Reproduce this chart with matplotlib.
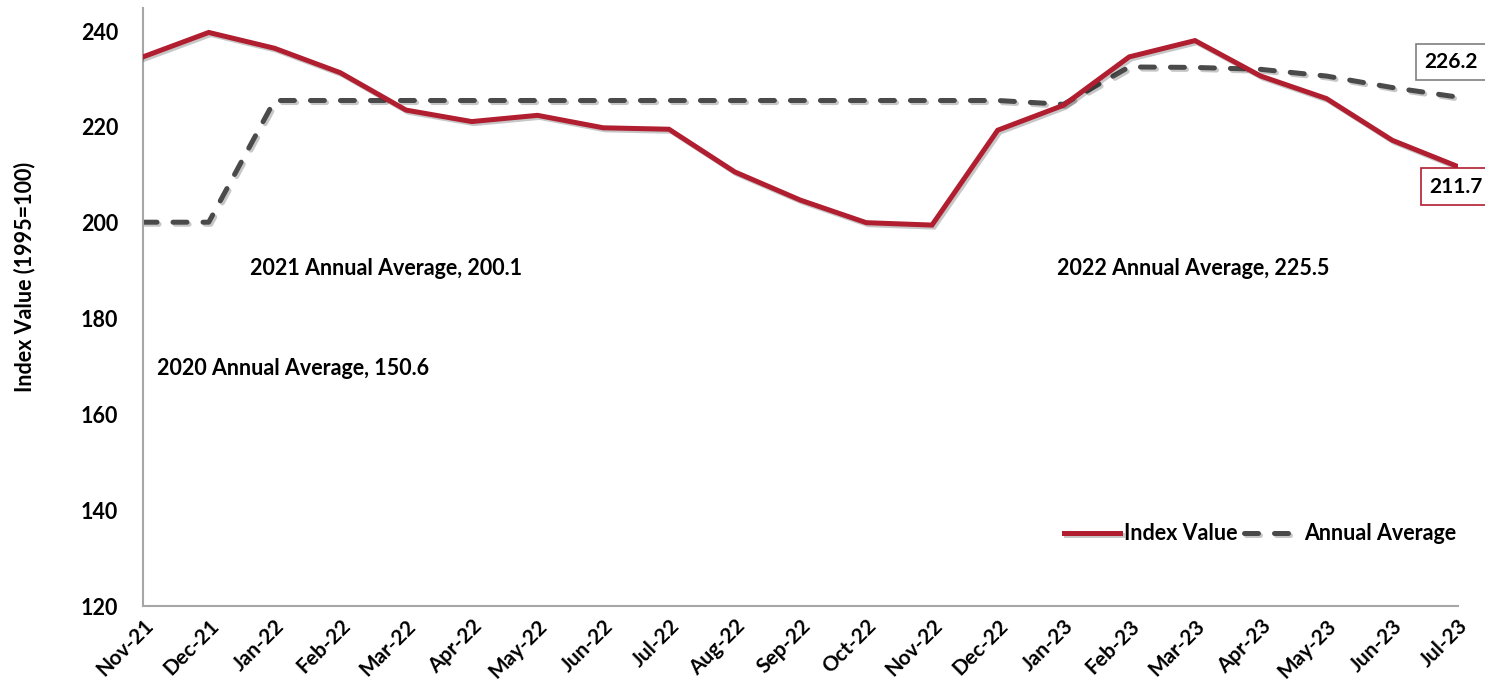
import matplotlib as mplt
import matplotlib.pyplot as plt
import matplotlib.patheffects as pe

mplt.rcParams['font.family'] = ['Lato', 'DejaVu Sans']
mplt.rcParams['font.weight'] = 'bold'

months = ['Nov-21', 'Dec-21', 'Jan-22', 'Feb-22', 'Mar-22', 'Apr-22', 'May-22',
          'Jun-22', 'Jul-22', 'Aug-22', 'Sep-22', 'Oct-22', 'Nov-22', 'Dec-22',
          'Jan-23', 'Feb-23', 'Mar-23', 'Apr-23', 'May-23', 'Jun-23', 'Jul-23']
index_value = [234.6, 239.7, 236.4, 231.3, 223.5, 221.1, 222.4, 219.8, 219.5,
               210.6, 204.7, 200.0, 199.5, 219.3, 224.5, 234.6, 238.0, 230.6,
               225.9, 217.2, 211.7]
annual_avg = [200.1, 200.1,
              225.5, 225.5, 225.5, 225.5, 225.5, 225.5, 225.5, 225.5, 225.5,
              225.5, 225.5, 225.5,
              224.7, 232.5, 232.4, 232.0, 230.6, 228.2, 226.2]
yticks = [120, 140, 160, 180, 200, 220, 240]

red = '#B01E30'
grey = '#4A4A4A'
spine_c = '#A6A6A6'

fig = plt.figure(figsize=(14.85, 6.9), dpi=100)
ax = fig.add_axes([0.0963, 0.1217, 0.8855, 0.8667])

x = list(range(len(months)))
shadow = [pe.SimpleLineShadow(offset=(1.5, -1.5), shadow_color='k', alpha=0.22), pe.Normal()]
ax.plot(x, index_value, c=red, lw=3.6, solid_joinstyle='miter', label='Index Value',
        path_effects=shadow, zorder=3)
ax.plot(x, annual_avg, c=grey, lw=3.6, dashes=(2.8, 3.2), dash_capstyle='round',
        label='Annual Average', path_effects=shadow, zorder=2)

ax.set_xlim(0, len(months) - 1)
ax.set_ylim(120, 244.8)
ax.set_yticks(yticks)
ax.set_xticks(x)
ax.set_xticklabels(months, rotation=45, ha='right', rotation_mode='anchor', fontsize=15)
ax.tick_params(axis='y', length=0, pad=18, labelsize=15.5)
ax.tick_params(axis='x', length=0, pad=7)

for s in ['top', 'right']:
    ax.spines[s].set_visible(False)
for s in ['left', 'bottom']:
    ax.spines[s].set_color(spine_c)
    ax.spines[s].set_linewidth(1.5)

fig.text(25 / 1485, 1 - 277 / 690, 'Index Value (1995=100)', rotation=90,
         ha='center', va='center', fontsize=15.5)

# annual average notes
ax.text(1.63, 190.5, '2021 Annual Average, 200.1', fontsize=15.5, va='center')
ax.text(0.21, 169.6, '2020 Annual Average, 150.6', fontsize=15.5, va='center')
ax.text(13.9, 190.5, '2022 Annual Average, 225.5', fontsize=15.5, va='center')

# end-point value boxes
ax.annotate(f'{annual_avg[-1]:.1f}', xy=(x[-1], annual_avg[-1]), xytext=(-7, 35),
            textcoords='offset pixels', ha='center', va='center', fontsize=15,
            annotation_clip=False,
            bbox=dict(boxstyle='square,pad=0.4', fc='white', ec='#7F7F7F', lw=1.2))
ax.annotate(f'{index_value[-1]:.1f}', xy=(x[-1], index_value[-1]), xytext=(-2, -20),
            textcoords='offset pixels', ha='center', va='center', fontsize=15,
            annotation_clip=False,
            bbox=dict(boxstyle='square,pad=0.4', fc='white', ec=red, lw=1.2))

leg = ax.legend(ncol=2, frameon=False, loc='center right', fontsize=15.5,
                bbox_to_anchor=(1465 / 1485, 1 - 534 / 690), bbox_transform=fig.transFigure,
                handlelength=2.6, handletextpad=0.2, columnspacing=0.3, borderaxespad=0)

plt.savefig('out.png', dpi=100)
